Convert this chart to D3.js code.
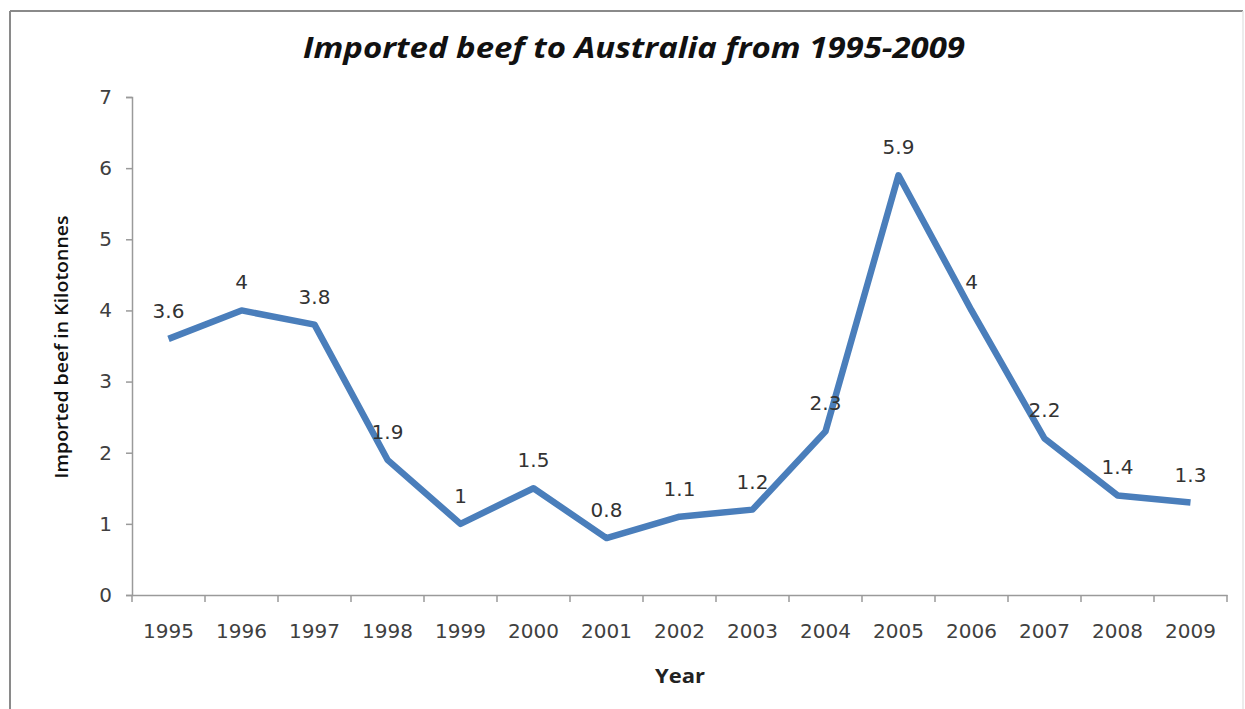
<!DOCTYPE html>
<html><head><meta charset="utf-8">
<script src="https://cdn.jsdelivr.net/npm/d3@7"></script>
<style>body{margin:0;background:#fff}svg{display:block}</style>
</head><body>
<svg id="c" width="1245" height="709"></svg>
<script>
const years = ["1995","1996","1997","1998","1999","2000","2001","2002","2003","2004","2005","2006","2007","2008","2009"];
const values = [3.6,4,3.8,1.9,1,1.5,0.8,1.1,1.2,2.3,5.9,4,2.2,1.4,1.3];
const yTicks = [0,1,2,3,4,5,6,7];
const titleText = "Imported beef to Australia from 1995-2009";
const xTitle = "Year";
const yTitle = "Imported beef in Kilotonnes";

const svg = d3.select("#c");
const W = 1245, H = 709;
const m = {left:132, right:1227, top:97, bottom:595};

// frame
svg.append("line").attr("x1",10).attr("y1",11).attr("x2",1243).attr("y2",11).attr("stroke","#8a8a8a").attr("stroke-width",2);
svg.append("line").attr("x1",10).attr("y1",11).attr("x2",10).attr("y2",H).attr("stroke","#8a8a8a").attr("stroke-width",2);
svg.append("line").attr("x1",1243).attr("y1",11).attr("x2",1243).attr("y2",H).attr("stroke","#e6e6e6").attr("stroke-width",1.5);

const x = d3.scaleBand().domain(years).range([m.left, m.right]).padding(0);
const y = d3.scaleLinear().domain([0,7]).range([m.bottom, m.top]);

// title
svg.append("text").attr("x",634).attr("y",58).attr("text-anchor","middle")
  .attr("font-family","Open Sans").attr("font-weight","bold").attr("font-style","italic")
  .attr("font-size",28).attr("fill","#111")
  .attr("textLength",662).attr("lengthAdjust","spacingAndGlyphs").text(titleText);

// y axis
const yAxis = svg.append("g").attr("transform",`translate(${m.left},0)`)
  .call(d3.axisLeft(y).tickValues(yTicks).tickSize(6).tickPadding(14).tickFormat(d3.format("d")));
yAxis.select(".domain").attr("stroke","#9a9a9a").attr("stroke-width",1.5);
yAxis.selectAll(".tick line").attr("stroke","#9a9a9a").attr("stroke-width",1.5);
yAxis.selectAll(".tick text").attr("font-family","DejaVu Sans").attr("font-size",20).attr("fill","#404040");

// x axis
const xAxis = svg.append("g").attr("transform",`translate(0,${m.bottom})`)
  .call(d3.axisBottom(x).tickSize(0).tickPadding(29));
xAxis.select(".domain").attr("stroke","#9a9a9a").attr("stroke-width",1.5);
xAxis.selectAll(".tick text").attr("font-family","DejaVu Sans").attr("font-size",20).attr("fill","#404040");
// tick marks between categories
const bounds = years.map(d => x(d)).concat([x(years[years.length-1]) + x.bandwidth()]);
svg.append("g").selectAll("line").data(bounds).join("line")
  .attr("x1",d=>d).attr("x2",d=>d).attr("y1",m.bottom).attr("y2",m.bottom+7)
  .attr("stroke","#9a9a9a").attr("stroke-width",1.5);

// axis titles
svg.append("text").attr("x",680).attr("y",683).attr("text-anchor","middle")
  .attr("font-family","Open Sans").attr("font-weight","bold").attr("font-size",19).attr("fill","#222")
  .attr("textLength",50).attr("lengthAdjust","spacingAndGlyphs").text(xTitle);
svg.append("text").attr("transform",`translate(68,347) rotate(-90)`).attr("text-anchor","middle")
  .attr("font-family","Open Sans").attr("font-weight","600").attr("font-size",18).attr("fill","#111")
  .attr("textLength",263).attr("lengthAdjust","spacingAndGlyphs").text(yTitle);

// line
const cx = d => x(d) + x.bandwidth()/2;
const line = d3.line().x((d,i)=>cx(years[i])).y(d=>y(d));
svg.append("path").datum(values).attr("d",line).attr("fill","none")
  .attr("stroke","#4a7ebb").attr("stroke-width",6.5).attr("stroke-linejoin","round").attr("stroke-linecap","butt");

// data labels
svg.append("g").selectAll("text").data(values).join("text")
  .attr("x",(d,i)=>cx(years[i])).attr("y",d=>y(d)-21).attr("text-anchor","middle")
  .attr("font-family","DejaVu Sans").attr("font-size",20).attr("fill","#333")
  .text(d=>String(d));
</script>
</body></html>
